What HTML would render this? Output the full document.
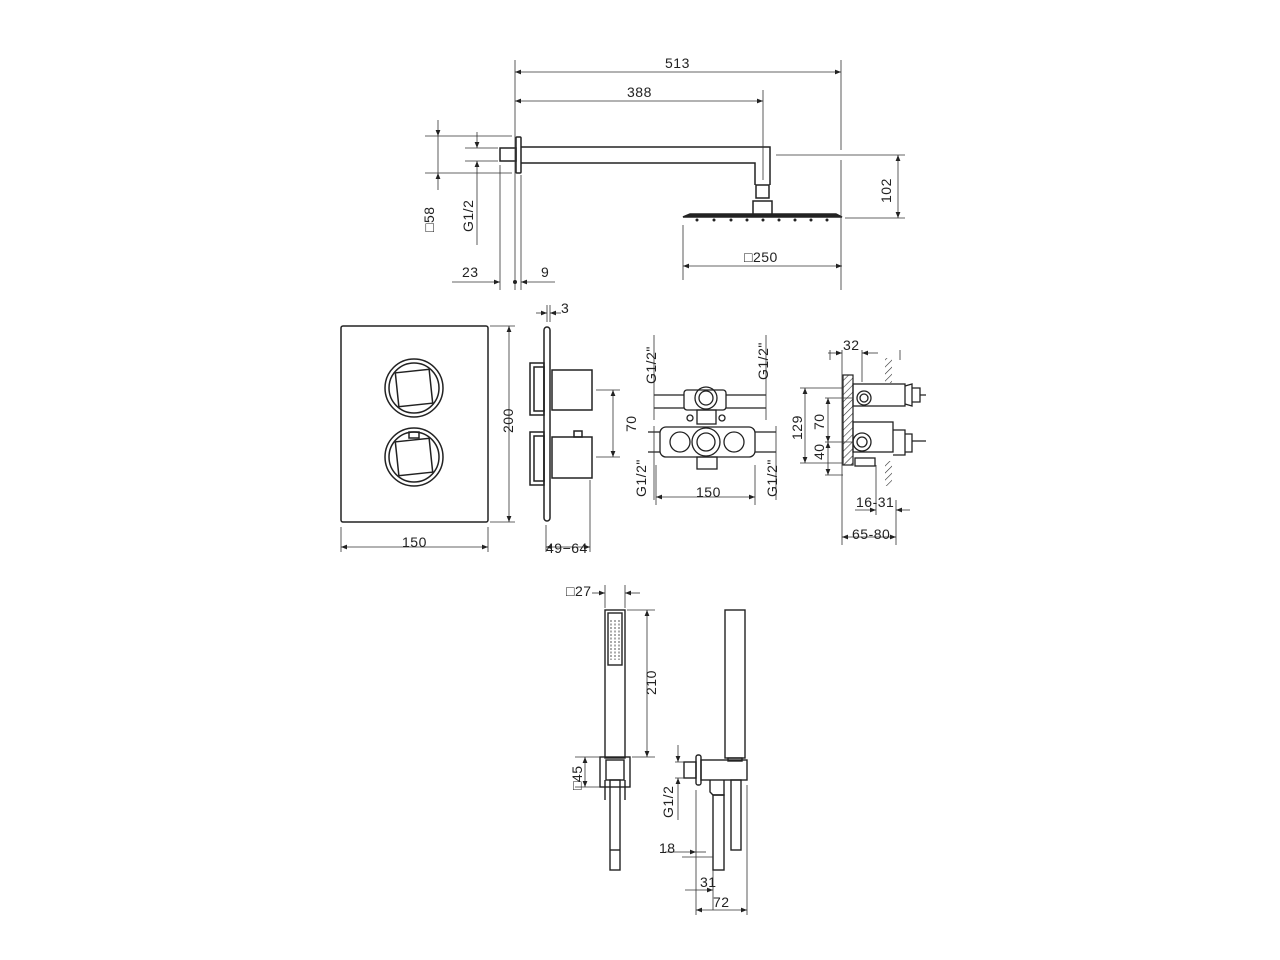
<!DOCTYPE html>
<html><head><meta charset="utf-8"><style>
html,body{margin:0;padding:0;background:#fff;}
svg{display:block}
text{font-family:"Liberation Sans",sans-serif;font-size:14px;fill:#222;letter-spacing:0.5px}
</style></head><body>
<svg width="1280" height="960" viewBox="0 0 1280 960" xmlns="http://www.w3.org/2000/svg">
<defs>
<marker id="a" viewBox="0 0 10 10" refX="10" refY="5" markerUnits="userSpaceOnUse" markerWidth="11" markerHeight="6" orient="auto-start-reverse"><path d="M0,1 L10,5 L0,9z" fill="#222"/></marker>
<pattern id="h" width="5" height="5" patternUnits="userSpaceOnUse" patternTransform="rotate(45)"><line x1="0" y1="0" x2="0" y2="5" stroke="#333" stroke-width="1.2"/></pattern>
</defs>
<g stroke="#222" fill="none" stroke-width="1.5">
<rect x="516" y="137" width="5" height="36" rx="1"/>
<rect x="500" y="148" width="16" height="13"/>
<path d="M521 147 H770 V185 M521 163 H755 V185"/>
<rect x="756" y="185" width="13" height="13"/>
<rect x="753" y="201" width="19" height="14"/>
<path d="M683 217 L690 214 H836 L842 217 Z" fill="#222"/>
</g>
<g fill="#222"><circle cx="697" cy="220" r="1.5"/><circle cx="714" cy="220" r="1.5"/><circle cx="731" cy="220" r="1.5"/><circle cx="747" cy="220" r="1.5"/><circle cx="763" cy="220" r="1.5"/><circle cx="779" cy="220" r="1.5"/><circle cx="795" cy="220" r="1.5"/><circle cx="811" cy="220" r="1.5"/><circle cx="827" cy="220" r="1.5"/></g>
<g stroke="#333" stroke-width="0.8" fill="none">
<path d="M515 60 V290 M841 60 V150 M841 160 V290 M763 90 V180 M683 225 V280 M521 175 V290 M500 165 V290"/>
<line x1="515" y1="72" x2="841" y2="72" marker-start="url(#a)" marker-end="url(#a)"/>
<line x1="515" y1="101" x2="763" y2="101" marker-start="url(#a)"  marker-end="url(#a)"/>
<line x1="683" y1="266" x2="842" y2="266" marker-start="url(#a)" marker-end="url(#a)"/>
<path d="M776 155 H905 M845 218 H905"/>
<line x1="898" y1="155" x2="898" y2="218" marker-start="url(#a)" marker-end="url(#a)"/>
<path d="M425 136 H512 M425 173 H512 M465 148 H498 M465 161 H498"/>
<line x1="438" y1="120" x2="438" y2="136" marker-end="url(#a)"/>
<line x1="438" y1="190" x2="438" y2="173" marker-end="url(#a)"/>
<line x1="438" y1="136" x2="438" y2="173"/>
<line x1="477" y1="132" x2="477" y2="148" marker-end="url(#a)"/>
<line x1="477" y1="245" x2="477" y2="161" marker-end="url(#a)"/>
<line x1="452" y1="282" x2="500" y2="282" marker-end="url(#a)"/>
<line x1="555" y1="282" x2="521" y2="282" marker-end="url(#a)"/>
</g>
<circle cx="515" cy="282" r="2" fill="#222"/>
<text x="665" y="68">513</text><text x="627" y="97">388</text>
<text x="744" y="262">□250</text>
<text x="462" y="277">23</text><text x="541" y="277">9</text>
<text transform="translate(891,203) rotate(-90)">102</text>
<text transform="translate(434,232) rotate(-90)">□58</text>
<text transform="translate(473,232) rotate(-90)">G1/2</text>

<g stroke="#222" fill="none" stroke-width="1.5">
<rect x="341" y="326" width="147" height="196" rx="2"/>
<circle cx="414" cy="388" r="29"/><circle cx="414" cy="388" r="25"/>
<rect x="397" y="371" width="34" height="34" transform="rotate(-6 414 388)"/>
<circle cx="414" cy="457" r="29"/><circle cx="414" cy="457" r="25"/>
<rect x="397" y="440" width="34" height="34" transform="rotate(-6 414 457)"/>
<rect x="409" y="432" width="10" height="6"/>
<rect x="544" y="327" width="6" height="194" rx="3"/>
<rect x="530" y="363" width="14" height="52"/><rect x="534" y="367" width="10" height="44"/>
<rect x="530" y="432" width="14" height="53"/><rect x="534" y="436" width="10" height="45"/>
<rect x="552" y="370" width="40" height="40"/>
<rect x="552" y="437" width="40" height="41"/>
<rect x="574" y="431" width="8" height="6"/>
</g>
<g stroke="#333" stroke-width="0.8" fill="none">
<path d="M490 326 H515 M490 522 H515 M341 527 V552 M488 527 V552 M596 390 H620 M596 457 H620 M546 525 V552 M590 480 V552 M547 305 V322 M550 305 V322"/>
<line x1="509" y1="326" x2="509" y2="522" marker-start="url(#a)" marker-end="url(#a)"/>
<line x1="341" y1="547" x2="488" y2="547" marker-start="url(#a)" marker-end="url(#a)"/>
<line x1="613" y1="390" x2="613" y2="457" marker-start="url(#a)" marker-end="url(#a)"/>
<line x1="546" y1="547" x2="590" y2="547" marker-start="url(#a)" marker-end="url(#a)"/>
<line x1="536" y1="313" x2="547" y2="313" marker-end="url(#a)"/>
<line x1="561" y1="313" x2="550" y2="313" marker-end="url(#a)"/>
</g>
<text x="402" y="547">150</text><text x="546" y="553">49−64</text><text x="561" y="313">3</text>
<text transform="translate(513,433) rotate(-90)">200</text>
<text transform="translate(636,432) rotate(-90)">70</text>

<g stroke="#222" fill="none" stroke-width="1.3">
<rect x="684" y="390" width="42" height="20" rx="3"/>
<circle cx="706" cy="398" r="11"/><circle cx="706" cy="398" r="7"/>
<path d="M654 395 H684 M654 408 H684 M726 395 H766 M726 408 H766"/>
<rect x="697" y="410" width="19" height="14"/>
<rect x="660" y="427" width="95" height="30" rx="6"/>
<circle cx="680" cy="442" r="10"/><circle cx="734" cy="442" r="10"/>
<circle cx="706" cy="442" r="14"/><circle cx="706" cy="442" r="9"/>
<rect x="697" y="457" width="20" height="12"/>
<path d="M648 432 H660 M648 452 H660 M755 432 H776 M755 452 H776"/>
<circle cx="690" cy="418" r="3"/><circle cx="722" cy="418" r="3"/>
</g>
<g stroke="#333" stroke-width="0.8" fill="none">
<path d="M654 335 V420 M766 335 V420 M654 426 V500 M776 426 V500 M656 465 V505 M755 465 V505"/>
<line x1="656" y1="497" x2="755" y2="497" marker-start="url(#a)" marker-end="url(#a)"/>
</g>
<text x="696" y="497">150</text>
<text transform="translate(656,384) rotate(-90)">G1/2"</text>
<text transform="translate(768,380) rotate(-90)">G1/2"</text>
<text transform="translate(646,497) rotate(-90)">G1/2"</text>
<text transform="translate(777,497) rotate(-90)">G1/2"</text>

<rect x="843" y="375" width="10" height="90" fill="url(#h)" stroke="#222" stroke-width="1.2"/>
<rect x="885" y="358" width="7" height="25" fill="url(#h)" stroke="none"/>
<rect x="885" y="461" width="7" height="25" fill="url(#h)" stroke="none"/>
<g stroke="#222" fill="none" stroke-width="1.3">
<rect x="853" y="384" width="52" height="22"/>
<circle cx="864" cy="398" r="7"/><circle cx="864" cy="398" r="4"/>
<path d="M905 386 L912 384 V406 L905 404 M912 388 H920 V402 H912 M920 395 H926"/>
<rect x="853" y="422" width="40" height="30"/>
<circle cx="862" cy="442" r="9"/><circle cx="862" cy="442" r="5"/>
<path d="M893 430 H905 V455 H893 M905 434 H912 V452 H905 M912 441 H926"/>
<rect x="855" y="458" width="20" height="8"/>
</g>
<g stroke="#333" stroke-width="0.8" fill="none">
<path d="M842 350 V545 M862 350 V382 M830 350 V360 M800 388 H843 M825 398 H853 M825 442 H853 M800 463 H843 M825 475 H843 M876 465 V515 M896 500 V545 M900 350 V360"/>
<line x1="828" y1="353" x2="842" y2="353" marker-end="url(#a)"/>
<line x1="878" y1="353" x2="862" y2="353" marker-end="url(#a)"/>
<line x1="805" y1="388" x2="805" y2="463" marker-start="url(#a)" marker-end="url(#a)"/>
<line x1="828" y1="398" x2="828" y2="442" marker-start="url(#a)" marker-end="url(#a)"/>
<line x1="828" y1="442" x2="828" y2="475" marker-start="url(#a)" marker-end="url(#a)"/>
<line x1="855" y1="510" x2="876" y2="510" marker-end="url(#a)"/>
<line x1="910" y1="510" x2="896" y2="510" marker-end="url(#a)"/>
<line x1="842" y1="537" x2="896" y2="537" marker-start="url(#a)" marker-end="url(#a)"/>
</g>
<text x="843" y="350">32</text><text x="856" y="507">16-31</text><text x="852" y="539">65-80</text>
<text transform="translate(802,440) rotate(-90)">129</text>
<text transform="translate(824,430) rotate(-90)">70</text>
<text transform="translate(824,460) rotate(-90)">40</text>

<g stroke="#222" fill="none" stroke-width="1.4">
<rect x="605" y="610" width="20" height="148"/>
<rect x="608" y="613" width="14" height="52"/>
<rect x="600" y="757" width="30" height="30"/>
<rect x="606" y="760" width="18" height="20"/>
<path d="M605 780 V800 M625 780 V800"/>
<rect x="610" y="780" width="10" height="90"/>
<path d="M610 850 H620"/>
</g>
<g stroke="#555" stroke-width="1" stroke-dasharray="2 1.5"><path d="M611 620 V660 M615 620 V660 M619 620 V660"/></g>
<g stroke="#333" stroke-width="0.8" fill="none">
<path d="M605 585 V608 M625 585 V608 M627 610 H655 M632 757 H655 M575 757 H600 M575 787 H600"/>
<line x1="592" y1="593" x2="605" y2="593" marker-end="url(#a)"/>
<line x1="640" y1="593" x2="625" y2="593" marker-end="url(#a)"/>
<line x1="647" y1="610" x2="647" y2="757" marker-start="url(#a)" marker-end="url(#a)"/>
<line x1="585" y1="757" x2="585" y2="787" marker-start="url(#a)" marker-end="url(#a)"/>
</g>
<text x="566" y="596">□27</text>
<text transform="translate(656,695) rotate(-90)">210</text>
<text transform="translate(582,782) rotate(-90)">45</text>
<text x="573" y="790">□</text>

<g stroke="#222" fill="none" stroke-width="1.4">
<rect x="725" y="610" width="20" height="148"/>
<rect x="684" y="762" width="12" height="16"/>
<rect x="696" y="755" width="5" height="30" rx="2"/>
<rect x="701" y="760" width="46" height="20"/>
<path d="M710 780 V792 L713 795 H724 V780"/>
<rect x="713" y="795" width="11" height="75"/>
<rect x="731" y="780" width="10" height="70"/>
<rect x="728" y="758" width="14" height="3"/>
</g>
<g stroke="#333" stroke-width="0.8" fill="none">
<path d="M675 762 H684 M675 778 H684 M696 790 V915 M713 870 V910 M747 785 V915 M682 857 H713"/>
<line x1="678" y1="745" x2="678" y2="762" marker-end="url(#a)"/>
<line x1="678" y1="820" x2="678" y2="778" marker-end="url(#a)"/>
<line x1="665" y1="852" x2="696" y2="852" marker-end="url(#a)"/>
<line x1="706" y1="852" x2="696" y2="852"/>
<line x1="685" y1="890" x2="713" y2="890" marker-end="url(#a)"/>
<line x1="696" y1="910" x2="747" y2="910" marker-start="url(#a)" marker-end="url(#a)"/>
</g>
<text x="659" y="853">18</text><text x="700" y="887">31</text><text x="713" y="907">72</text>
<text transform="translate(673,818) rotate(-90)">G1/2</text>
</svg>
</body></html>
